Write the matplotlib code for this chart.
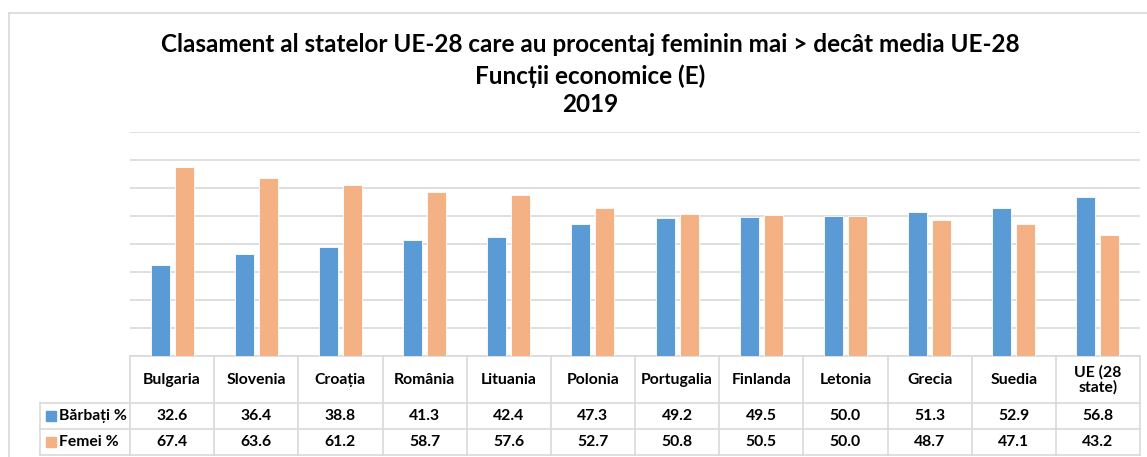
import matplotlib
matplotlib.use("Agg")
import matplotlib.pyplot as plt
from matplotlib.lines import Line2D
from matplotlib.patches import Rectangle
import numpy as np

categories = ["Bulgaria", "Slovenia", "Croația", "România", "Lituania", "Polonia",
              "Portugalia", "Finlanda", "Letonia", "Grecia", "Suedia", "UE (28\nstate)"]
barbati = [32.6, 36.4, 38.8, 41.3, 42.4, 47.3, 49.2, 49.5, 50.0, 51.3, 52.9, 56.8]
femei = [67.4, 63.6, 61.2, 58.7, 57.6, 52.7, 50.8, 50.5, 50.0, 48.7, 47.1, 43.2]
series_names = ["Bărbați %", "Femei %"]
title_lines = ["Clasament al statelor UE-28 care au procentaj feminin mai > decât media UE-28",
               "Funcții economice (E)", "2019"]

BLUE = "#5B9BD5"
ORANGE = "#F4B183"
GRID = "#D9D9D9"
FONT = ["Lato", "DejaVu Sans"]

W, H = 1147, 457
fig = plt.figure(figsize=(W / 100, H / 100), dpi=100)

def fx(px):
    return px / W

def fy(py):
    return 1 - py / H

# outer chart frame
fig.add_artist(Line2D([fx(9), fx(9)], [0, fy(13)], color=GRID, lw=1.2, transform=fig.transFigure))
fig.add_artist(Line2D([fx(9), 1], [fy(13), fy(13)], color=GRID, lw=1.2, transform=fig.transFigure))

left, right, top, base = 130, 1140, 132, 356
ax = fig.add_axes([fx(left), fy(base), fx(right - left), fy(top) - fy(base)])
n = len(categories)
x = np.arange(n)
bw = 0.225
ax.bar(x - 0.142, barbati, bw, color=BLUE, edgecolor="white", linewidth=0.6, zorder=3)
ax.bar(x + 0.142, femei, bw, color=ORANGE, edgecolor="white", linewidth=0.6, zorder=3)
ax.set_xlim(-0.5, n - 0.5)
ax.set_ylim(0, 80)
ax.set_yticks(np.arange(0, 81, 10))
ax.yaxis.grid(True, color=GRID, lw=1.2, zorder=0)
ax.tick_params(left=False, bottom=False, labelleft=False, labelbottom=False)
for s in ["top", "right", "left"]:
    ax.spines[s].set_visible(False)
ax.spines["bottom"].set_color(GRID)
ax.spines["bottom"].set_linewidth(1.2)

# title
for i, (t, yy) in enumerate(zip(title_lines, [45, 76, 105])):
    fig.text(fx(590), fy(yy), t, ha="center", va="center", fontsize=17.5,
             fontweight="bold", family=FONT)

# data table
colw = (right - left) / n
row_y = [356, 403, 429, 455]
tl = dict(color=GRID, lw=1.2, transform=fig.transFigure)
for yy in row_y[1:]:
    fig.add_artist(Line2D([fx(40), fx(right)], [fy(yy), fy(yy)], **tl))
for k in range(n + 1):
    xx = left + k * colw
    fig.add_artist(Line2D([fx(xx), fx(xx)], [fy(356), fy(455)], **tl))
fig.add_artist(Line2D([fx(40), fx(40)], [fy(403), fy(455)], **tl))

FS = 11.3
for k, c in enumerate(categories):
    cx = left + (k + 0.5) * colw
    fig.text(fx(cx), fy(380), c, ha="center", va="center", fontsize=FS,
             fontweight="bold", family=FONT, linespacing=1.1)
    fig.text(fx(cx), fy(416), f"{barbati[k]:.1f}", ha="center", va="center",
             fontsize=FS, fontweight="bold", family=FONT)
    fig.text(fx(cx), fy(442), f"{femei[k]:.1f}", ha="center", va="center",
             fontsize=FS, fontweight="bold", family=FONT)

for name, col, yy in zip(series_names, [BLUE, ORANGE], [416, 442]):
    fig.add_artist(Rectangle((fx(46), fy(yy + 5)), fx(9.5), fy(yy - 5) - fy(yy + 5),
                             color=col, transform=fig.transFigure))
    fig.text(fx(59), fy(yy), name, ha="left", va="center", fontsize=FS,
             fontweight="bold", family=FONT)

fig.savefig("out.png", dpi=100)
